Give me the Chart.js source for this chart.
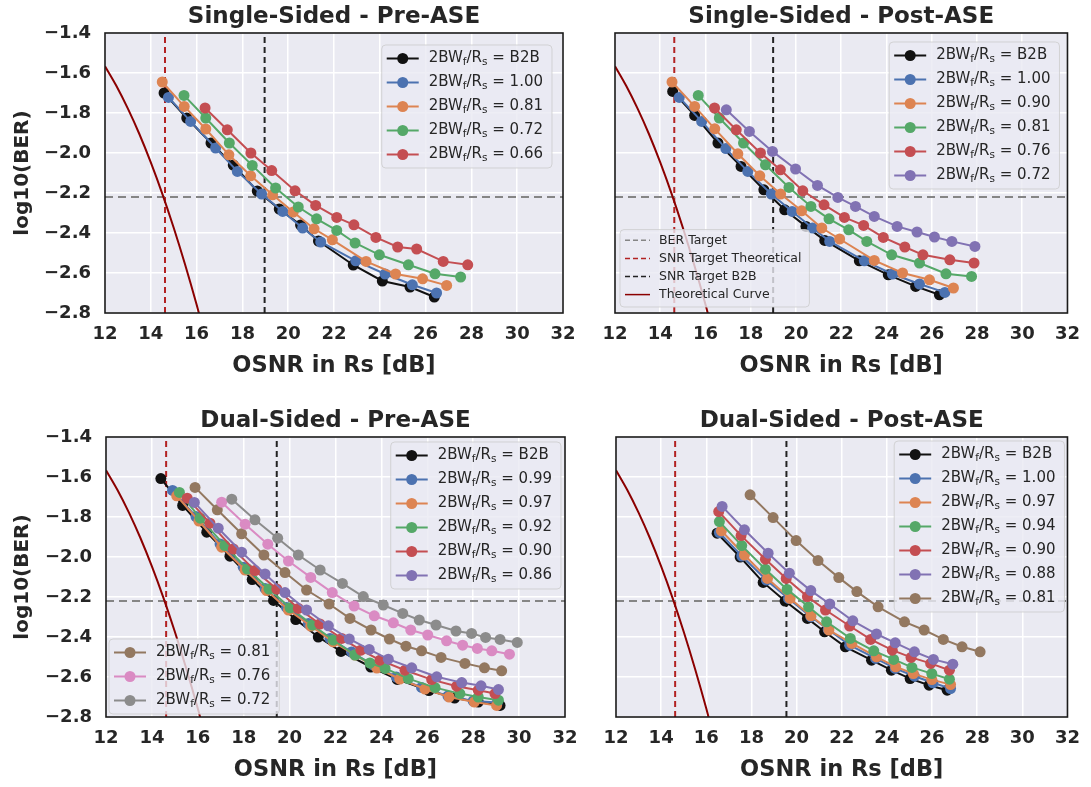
<!DOCTYPE html>
<html>
<head>
<meta charset="utf-8">
<script src="https://cdn.jsdelivr.net/npm/chart.js@4.4.1/dist/chart.umd.min.js"></script>
<style>
  body { margin: 0; background: #fff; width: 1091px; height: 787px; overflow: hidden; position: relative; }
  canvas { position: absolute; }
</style>
</head>
<body>
<canvas id="ssPre"></canvas>
<canvas id="ssPost"></canvas>
<canvas id="dsPre"></canvas>
<canvas id="dsPost"></canvas>
<script>
// axis ticks
const xTicks = [12, 14, 16, 18, 20, 22, 24, 26, 28, 30, 32];
const yTicks = [-2.8, -2.6, -2.4, -2.2, -2.0, -1.8, -1.6, -1.4];

// reference lines
const berTarget = -2.22;
const snrTheory = 14.62;
const snrB2B = [18.97, 18.99, 19.44, 19.55]; // per panel

// theoretical curve
const theoryOsnr = [12, 12.5, 13, 13.5, 14, 14.5, 15, 15.5, 16, 16.5];
const theoryBer = [-1.566, -1.665, -1.778, -1.905, -2.047, -2.203, -2.374, -2.559, -2.758, -2.972];

// Single-Sided - Pre-ASE
const ssPreLabels = ["B2B", "1.00", "0.81", "0.72", "0.66"];
const ssPreOsnr = [
  [14.58, 15.57, 16.63, 17.60, 18.65, 19.61, 20.54, 21.32, 22.84, 24.11, 25.32, 26.38],
  [14.77, 15.74, 16.83, 17.78, 18.84, 19.76, 20.63, 21.42, 22.95, 24.23, 25.42, 26.48],
  [14.50, 15.46, 16.40, 17.41, 18.36, 19.32, 20.22, 21.13, 21.93, 23.40, 24.69, 25.87, 26.92],
  [15.45, 16.40, 17.43, 18.43, 19.45, 20.44, 21.24, 22.12, 22.92, 23.98, 25.25, 26.41, 27.53],
  [16.37, 17.34, 18.37, 19.28, 20.30, 21.20, 22.12, 22.87, 23.83, 24.78, 25.61, 26.77, 27.84]
];
const ssPreBer = [
  [-1.700, -1.825, -1.950, -2.060, -2.190, -2.280, -2.360, -2.440, -2.560, -2.640, -2.670, -2.720],
  [-1.722, -1.842, -1.975, -2.092, -2.205, -2.292, -2.375, -2.445, -2.539, -2.605, -2.659, -2.700],
  [-1.645, -1.767, -1.880, -2.009, -2.114, -2.209, -2.295, -2.379, -2.434, -2.542, -2.605, -2.629, -2.662],
  [-1.712, -1.825, -1.950, -2.062, -2.175, -2.270, -2.329, -2.387, -2.450, -2.509, -2.559, -2.604, -2.620],
  [-1.775, -1.884, -2.000, -2.088, -2.189, -2.262, -2.322, -2.359, -2.422, -2.470, -2.480, -2.542, -2.559]
];

// Single-Sided - Post-ASE
const ssPostLabels = ["B2B", "1.00", "0.90", "0.81", "0.76", "0.72"];
const ssPostOsnr = [
  [14.55, 15.52, 16.55, 17.57, 18.58, 19.50, 20.44, 21.27, 22.80, 24.08, 25.29, 26.34],
  [14.84, 15.83, 16.90, 17.87, 18.91, 19.83, 20.73, 21.49, 23.02, 24.26, 25.46, 26.58],
  [14.52, 15.52, 16.41, 17.43, 18.40, 19.32, 20.25, 21.14, 21.93, 23.46, 24.71, 25.90, 26.96],
  [15.68, 16.61, 17.68, 18.65, 19.69, 20.66, 21.46, 22.33, 23.13, 24.23, 25.46, 26.63, 27.76],
  [16.40, 17.36, 18.43, 19.31, 20.30, 21.24, 22.14, 22.99, 23.86, 24.81, 25.61, 26.80, 27.87],
  [16.92, 17.94, 18.96, 19.98, 20.95, 21.85, 22.63, 23.46, 24.47, 25.35, 26.12, 26.89, 27.91]
];
const ssPostBer = [
  [-1.692, -1.812, -1.950, -2.067, -2.184, -2.284, -2.367, -2.437, -2.539, -2.609, -2.667, -2.709],
  [-1.722, -1.842, -1.978, -2.092, -2.205, -2.292, -2.375, -2.442, -2.539, -2.605, -2.655, -2.697],
  [-1.645, -1.767, -1.879, -2.004, -2.114, -2.205, -2.289, -2.375, -2.430, -2.537, -2.600, -2.634, -2.675],
  [-1.712, -1.825, -1.950, -2.059, -2.172, -2.267, -2.329, -2.384, -2.442, -2.509, -2.550, -2.604, -2.617],
  [-1.775, -1.884, -2.000, -2.084, -2.189, -2.259, -2.322, -2.362, -2.422, -2.470, -2.509, -2.534, -2.550],
  [-1.784, -1.892, -1.992, -2.080, -2.162, -2.222, -2.267, -2.317, -2.367, -2.395, -2.420, -2.442, -2.467]
];

// Dual-Sided - Pre-ASE
const dsPreLabels = ["B2B", "0.99", "0.97", "0.92", "0.90", "0.86", "0.81", "0.76", "0.72"];
const dsPreOsnr = [
  [14.39, 15.34, 16.39, 17.40, 18.37, 19.30, 20.27, 21.25, 22.24, 23.54, 24.69, 26.07, 27.19, 28.22, 29.17],
  [14.90, 15.92, 16.97, 17.98, 18.93, 19.87, 20.82, 21.76, 22.70, 23.65, 24.65, 25.75, 26.90, 28.00, 29.05],
  [15.08, 16.05, 17.04, 18.06, 19.00, 19.95, 20.92, 21.90, 22.85, 23.80, 24.80, 25.90, 26.95, 28.05, 29.02],
  [15.20, 16.10, 17.18, 18.16, 19.10, 20.02, 21.00, 21.90, 22.85, 23.50, 24.16, 25.17, 26.34, 27.42, 28.22, 29.10],
  [15.54, 16.53, 17.55, 18.49, 19.44, 20.38, 21.32, 22.27, 23.11, 23.94, 25.03, 26.19, 27.28, 28.22, 28.95],
  [15.85, 16.89, 17.91, 18.93, 19.80, 20.74, 21.69, 22.60, 23.47, 24.30, 25.32, 26.41, 27.50, 28.34, 29.10],
  [15.88, 16.85, 17.91, 18.88, 19.80, 20.74, 21.72, 22.63, 23.55, 24.35, 25.07, 25.75, 26.60, 27.64, 28.49, 29.24],
  [17.04, 18.06, 19.05, 19.95, 20.92, 21.86, 22.81, 23.69, 24.52, 25.28, 26.02, 26.84, 27.54, 28.18, 28.81, 29.58],
  [17.48, 18.49, 19.48, 20.38, 21.33, 22.30, 23.21, 24.08, 24.93, 25.65, 26.38, 27.25, 27.93, 28.54, 29.17, 29.92]
];
const dsPreBer = [
  [-1.608, -1.742, -1.876, -1.996, -2.113, -2.217, -2.313, -2.400, -2.472, -2.550, -2.612, -2.668, -2.705, -2.725, -2.742],
  [-1.667, -1.798, -1.935, -2.051, -2.157, -2.252, -2.332, -2.407, -2.475, -2.540, -2.600, -2.652, -2.695, -2.720, -2.728],
  [-1.694, -1.820, -1.951, -2.065, -2.168, -2.265, -2.345, -2.424, -2.490, -2.555, -2.610, -2.660, -2.700, -2.725, -2.742],
  [-1.677, -1.806, -1.943, -2.060, -2.160, -2.254, -2.340, -2.415, -2.490, -2.530, -2.557, -2.608, -2.653, -2.683, -2.700, -2.716],
  [-1.706, -1.831, -1.960, -2.068, -2.160, -2.257, -2.335, -2.407, -2.466, -2.516, -2.566, -2.613, -2.646, -2.666, -2.683],
  [-1.727, -1.856, -1.976, -2.085, -2.178, -2.265, -2.344, -2.410, -2.462, -2.511, -2.554, -2.599, -2.628, -2.644, -2.663],
  [-1.652, -1.764, -1.884, -1.990, -2.078, -2.165, -2.235, -2.307, -2.365, -2.410, -2.446, -2.469, -2.502, -2.532, -2.554, -2.569],
  [-1.726, -1.836, -1.936, -2.020, -2.102, -2.178, -2.245, -2.294, -2.329, -2.365, -2.390, -2.419, -2.441, -2.457, -2.469, -2.486],
  [-1.711, -1.814, -1.906, -1.990, -2.065, -2.132, -2.198, -2.240, -2.282, -2.315, -2.340, -2.370, -2.382, -2.402, -2.412, -2.427]
];

// Dual-Sided - Post-ASE
const dsPostLabels = ["B2B", "1.00", "0.97", "0.94", "0.90", "0.88", "0.81"];
const dsPostOsnr = [
  [16.48, 17.50, 18.52, 19.49, 20.48, 21.24, 22.16, 23.32, 24.20, 25.03, 25.87, 26.67],
  [16.58, 17.57, 18.66, 19.64, 20.63, 21.40, 22.35, 23.50, 24.37, 25.22, 26.04, 26.82],
  [16.67, 17.69, 18.71, 19.71, 20.63, 21.43, 22.45, 23.54, 24.39, 25.17, 25.99, 26.82],
  [16.58, 17.57, 18.62, 19.58, 20.53, 21.33, 22.38, 23.42, 24.30, 25.11, 25.99, 26.77],
  [16.55, 17.54, 18.62, 19.54, 20.48, 21.28, 22.35, 23.28, 24.24, 25.07, 25.94, 26.77],
  [16.70, 17.69, 18.74, 19.68, 20.63, 21.47, 22.49, 23.54, 24.37, 25.22, 26.06, 26.92],
  [17.94, 18.96, 19.98, 20.95, 21.87, 22.67, 23.61, 24.78, 25.65, 26.50, 27.33, 28.13]
];
const dsPostBer = [
  [-1.881, -2.000, -2.127, -2.220, -2.307, -2.374, -2.449, -2.516, -2.566, -2.608, -2.641, -2.666],
  [-1.878, -1.995, -2.115, -2.207, -2.299, -2.362, -2.441, -2.507, -2.557, -2.596, -2.629, -2.658],
  [-1.869, -1.990, -2.107, -2.207, -2.294, -2.365, -2.432, -2.499, -2.549, -2.583, -2.613, -2.638],
  [-1.823, -1.943, -2.061, -2.162, -2.249, -2.324, -2.407, -2.469, -2.512, -2.552, -2.583, -2.611],
  [-1.773, -1.893, -2.011, -2.107, -2.198, -2.265, -2.345, -2.412, -2.466, -2.502, -2.532, -2.566],
  [-1.747, -1.864, -1.981, -2.081, -2.168, -2.235, -2.319, -2.385, -2.429, -2.474, -2.512, -2.536],
  [-1.689, -1.803, -1.918, -2.018, -2.103, -2.173, -2.249, -2.324, -2.365, -2.412, -2.449, -2.474]
];

const palette = ["#111111", "#4C72B0", "#DD8452", "#55A868", "#C44E52", "#8172B3", "#937860", "#DA8BC3", "#8C8C8C"];
const FONT = "'DejaVu Sans', sans-serif";
const TEXT = "#262626";

function ratioParts(v) {
  return [["2BW", 0], ["f", 1], ["/R", 0], ["s", 1], [" = " + v, 0]];
}

function drawText(ctx, x, y, item, st, measureOnly) {
  if (typeof item.text === "string") {
    ctx.font = st.font;
    if (!measureOnly) ctx.fillText(item.text, x, y);
    return ctx.measureText(item.text).width;
  }
  let w = 0;
  item.text.forEach(([s, sub]) => {
    ctx.font = sub ? st.subFont : st.font;
    if (!measureOnly) ctx.fillText(s, x + w, y + (sub ? st.subDy : 0));
    w += ctx.measureText(s).width;
  });
  return w;
}

const BIG = { font: "15px " + FONT, subFont: "10.5px " + FONT, subDy: 4, row: 24, first: 13.5, extra: 3, padL: 5, handle: 32, gap: 10, padR: 9 };
const SMALL = { font: "12.5px " + FONT, subFont: "9px " + FONT, subDy: 3, row: 18.1, first: 10.7, extra: 5, padL: 5, handle: 25, gap: 9, padR: 8 };

function drawLegend(ctx, a, lg) {
  const st = lg.small ? SMALL : BIG;
  ctx.textAlign = "left";
  ctx.textBaseline = "middle";
  const tw = Math.max(...lg.items.map(it => drawText(ctx, 0, 0, it, st, true)));
  const w = st.padL + st.handle + st.gap + tw + st.padR;
  const h = lg.items.length * st.row + st.extra;
  const x = lg.anchor === "tr" ? a.right - lg.dx - w : a.left + lg.dx;
  const y = lg.anchor === "tr" ? a.top + lg.dy : a.bottom - lg.dy - h;
  ctx.beginPath();
  ctx.roundRect(x, y, w, h, 4);
  ctx.fillStyle = "rgba(234,234,242,0.8)";
  ctx.fill();
  ctx.strokeStyle = "rgba(204,204,204,0.8)";
  ctx.lineWidth = 1;
  ctx.setLineDash([]);
  ctx.stroke();
  lg.items.forEach((it, i) => {
    const cy = y + st.first + i * st.row;
    const x0 = x + st.padL, x1 = x0 + st.handle;
    ctx.strokeStyle = it.color;
    ctx.lineWidth = it.lw || 2;
    ctx.setLineDash(it.dash || []);
    ctx.beginPath();
    ctx.moveTo(x0, cy);
    ctx.lineTo(x1, cy);
    ctx.stroke();
    ctx.setLineDash([]);
    if (it.marker) {
      ctx.beginPath();
      ctx.arc((x0 + x1) / 2, cy, 5.5, 0, Math.PI * 2);
      ctx.fillStyle = it.color;
      ctx.fill();
    }
    ctx.fillStyle = TEXT;
    drawText(ctx, x1 + st.gap, cy, it, st, false);
  });
}

const decor = {
  id: "decor",
  afterDatasetsDraw(chart, args, opts) {
    const { ctx, chartArea: a } = chart;
    ctx.save();
    ctx.strokeStyle = "#1a1a1a";
    ctx.lineWidth = 1.6;
    ctx.setLineDash([]);
    ctx.strokeRect(a.left, a.top, a.right - a.left, a.bottom - a.top);
    ctx.fillStyle = TEXT;
    ctx.font = "bold 23px " + FONT;
    ctx.textAlign = "center";
    ctx.textBaseline = "middle";
    ctx.fillText(opts.title, (a.left + a.right) / 2, a.top - 16);
    opts.legends.forEach(lg => drawLegend(ctx, a, lg));
    ctx.restore();
  }
};

const bgPlugin = {
  id: "bg",
  beforeDraw(chart) {
    const { ctx, chartArea: a } = chart;
    ctx.save();
    ctx.fillStyle = "#EAEAF2";
    ctx.fillRect(a.left, a.top, a.right - a.left, a.bottom - a.top);
    ctx.restore();
  }
};
Chart.register(bgPlugin);

function refDatasets(b2b) {
  const yLo = yTicks[0], yHi = yTicks[yTicks.length - 1];
  const xLo = xTicks[0], xHi = xTicks[xTicks.length - 1];
  return [
    { data: theoryOsnr.map((x, i) => ({ x, y: theoryBer[i] })), borderColor: "#8B0000", borderWidth: 2, pointRadius: 0, cubicInterpolationMode: "monotone", order: 100 },
    { data: [{ x: xLo, y: berTarget }, { x: xHi, y: berTarget }], borderColor: "#858585", borderWidth: 2, borderDash: [8, 5], pointRadius: 0, order: 101 },
    { data: [{ x: snrTheory, y: yLo }, { x: snrTheory, y: yHi }], borderColor: "#B22222", borderWidth: 2, borderDash: [6, 4], pointRadius: 0, order: 102 },
    { data: [{ x: b2b, y: yLo }, { x: b2b, y: yHi }], borderColor: "#222222", borderWidth: 2, borderDash: [6, 4], pointRadius: 0, order: 103 }
  ];
}

function seriesItems(labels, from, to) {
  return labels.slice(from, to).map((v, i) => ({ text: ratioParts(v), color: palette[from + i], marker: true }));
}

function makePanel(id, box, area, title, labels, osnr, ber, b2b, showY, legends) {
  const cv = document.getElementById(id);
  cv.width = box.w; cv.height = box.h;
  cv.style.left = box.x + "px"; cv.style.top = box.y + "px";
  const xAxisH = box.h - (area.b - box.y);
  const yAxisW = area.l - box.x;
  const series = labels.map((lab, i) => ({
    label: lab,
    data: osnr[i].map((x, j) => ({ x, y: ber[i][j] })),
    borderColor: palette[i],
    backgroundColor: palette[i],
    pointBackgroundColor: palette[i],
    pointBorderColor: palette[i],
    borderWidth: 2,
    pointRadius: 5.5,
    pointBorderWidth: 0,
    order: -i
  }));
  new Chart(cv, {
    type: "line",
    data: { datasets: series.concat(refDatasets(b2b)) },
    plugins: [decor],
    options: {
      responsive: false,
      animation: false,
      events: [],
      layout: { padding: { top: area.t - box.y, right: box.x + box.w - area.r, left: 0, bottom: 0 } },
      scales: {
        x: {
          type: "linear", min: xTicks[0], max: xTicks[xTicks.length - 1],
          afterBuildTicks: s => { s.ticks = xTicks.map(v => ({ value: v })); },
          afterFit: s => { s.height = xAxisH; },
          grid: { color: "#ffffff", lineWidth: 1.5, drawTicks: false },
          border: { display: false },
          ticks: { color: TEXT, font: { family: FONT, size: 18, weight: "bold" }, padding: 11, maxRotation: 0 },
          title: { display: true, text: "OSNR in Rs [dB]", color: TEXT, font: { family: FONT, size: 22.5, weight: "bold" }, padding: { top: 0, bottom: xAxisH - 53 - 13.5 } }
        },
        y: {
          type: "linear", min: yTicks[0], max: yTicks[yTicks.length - 1],
          afterBuildTicks: s => { s.ticks = yTicks.map(v => ({ value: v })); },
          afterFit: s => { s.width = yAxisW; },
          grid: { color: "#ffffff", lineWidth: 1.5, drawTicks: false },
          border: { display: false },
          ticks: {
            display: showY, color: TEXT, font: { family: FONT, size: 18, weight: "bold" }, padding: 14,
            callback: v => (v < 0 ? "\u2212" : "") + Math.abs(v).toFixed(1)
          },
          title: { display: showY, text: "log10(BER)", color: TEXT, font: { family: FONT, size: 20, weight: "bold" }, padding: { top: 11, bottom: 0 } }
        }
      },
      plugins: {
        legend: { display: false },
        tooltip: { enabled: false },
        decor: { title, legends }
      }
    }
  });
}

const refItems = [
  { text: "BER Target", color: "#858585", dash: [5, 3], lw: 1.5 },
  { text: "SNR Target Theoretical", color: "#B22222", dash: [5, 3], lw: 1.5 },
  { text: "SNR Target B2B", color: "#222222", dash: [5, 3], lw: 1.5 },
  { text: "Theoretical Curve", color: "#8B0000", lw: 1.5 }
];

makePanel("ssPre", { x: 0, y: 0, w: 590, h: 395 }, { l: 105, t: 33, r: 563, b: 313 },
  "Single-Sided - Pre-ASE", ssPreLabels, ssPreOsnr, ssPreBer, snrB2B[0], true,
  [{ anchor: "tr", dx: 11, dy: 12, items: seriesItems(ssPreLabels, 0, 5) }]);

makePanel("ssPost", { x: 590, y: 0, w: 501, h: 395 }, { l: 615, t: 33, r: 1073, b: 313 },
  "Single-Sided - Post-ASE", ssPostLabels, ssPostOsnr, ssPostBer, snrB2B[1], false,
  [{ anchor: "tr", dx: 8, dy: 9, items: seriesItems(ssPostLabels, 0, 6) },
   { anchor: "bl", dx: 5, dy: 6, small: true, items: refItems }]);

makePanel("dsPre", { x: 0, y: 395, w: 590, h: 392 }, { l: 106, t: 437, r: 565, b: 717 },
  "Dual-Sided - Pre-ASE", dsPreLabels, dsPreOsnr, dsPreBer, snrB2B[2], true,
  [{ anchor: "tr", dx: 4, dy: 5, items: seriesItems(dsPreLabels, 0, 6) },
   { anchor: "bl", dx: 3, dy: 3, items: seriesItems(dsPreLabels, 6, 9) }]);

makePanel("dsPost", { x: 590, y: 395, w: 501, h: 392 }, { l: 616, t: 437, r: 1074, b: 717 },
  "Dual-Sided - Post-ASE", dsPostLabels, dsPostOsnr, dsPostBer, snrB2B[3], false,
  [{ anchor: "tr", dx: 3, dy: 4, items: seriesItems(dsPostLabels, 0, 7) }]);
</script>
</body>
</html>
